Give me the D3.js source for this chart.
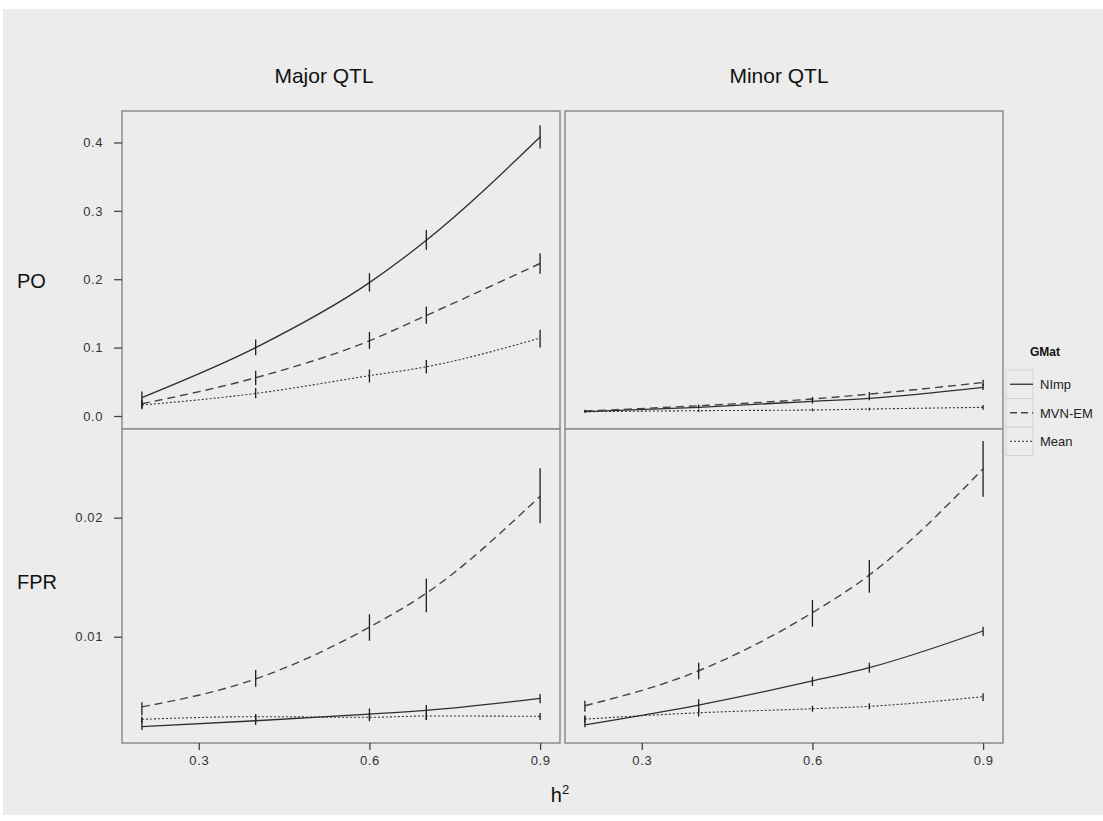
<!DOCTYPE html>
<html>
<head>
<meta charset="utf-8">
<script src="https://cdn.jsdelivr.net/npm/d3@7"></script>
<style>
  html, body { margin: 0; padding: 0; background: #ffffff; }
  svg { display: block; font-family: "Liberation Sans", Arial, sans-serif; }
</style>
</head>
<body>
<svg id="chart" width="1103" height="821"></svg>
<script>
// Heritability levels on the x axis
const h2 = [0.2, 0.4, 0.6, 0.7, 0.9];

const methods = ["NImp", "MVN-EM", "Mean"];
const columns = ["Major QTL", "Minor QTL"];
const rows = ["PO", "FPR"];

const xTicks = [0.3, 0.6, 0.9];
const poTicks = [0.0, 0.1, 0.2, 0.3, 0.4];
const fprTicks = [0.01, 0.02];

// PO, Major QTL
const poMajorNImp   = [0.027, 0.100, 0.195, 0.257, 0.408];
const poMajorNImpLo = [0.010, 0.089, 0.182, 0.243, 0.391];
const poMajorNImpHi = [0.036, 0.112, 0.209, 0.272, 0.425];
const poMajorMvn    = [0.018, 0.056, 0.110, 0.147, 0.223];
const poMajorMvnLo  = [0.013, 0.045, 0.098, 0.135, 0.208];
const poMajorMvnHi  = [0.024, 0.066, 0.123, 0.160, 0.238];
const poMajorMean   = [0.016, 0.033, 0.059, 0.072, 0.114];
const poMajorMeanLo = [0.011, 0.026, 0.049, 0.062, 0.100];
const poMajorMeanHi = [0.021, 0.041, 0.068, 0.082, 0.126];

// PO, Minor QTL
const poMinorNImp   = [0.0063, 0.0127, 0.0215, 0.0259, 0.042];
const poMinorNImpLo = [0.0050, 0.0110, 0.0180, 0.0230, 0.038];
const poMinorNImpHi = [0.0080, 0.0150, 0.0250, 0.0290, 0.047];
const poMinorMvn    = [0.0073, 0.0150, 0.0249, 0.0320, 0.049];
const poMinorMvnLo  = [0.0060, 0.0130, 0.0210, 0.0280, 0.044];
const poMinorMvnHi  = [0.0090, 0.0170, 0.0280, 0.0350, 0.053];
const poMinorMean   = [0.0063, 0.0078, 0.0088, 0.0102, 0.0127];
const poMinorMeanLo = [0.0050, 0.0060, 0.0070, 0.0080, 0.0090];
const poMinorMeanHi = [0.0075, 0.0095, 0.0110, 0.0120, 0.0160];

// FPR, Major QTL
const fprMajorNImp   = [0.00244, 0.00294, 0.00350, 0.00381, 0.00482];
const fprMajorNImpLo = [0.00216, 0.00258, 0.00300, 0.00300, 0.00440];
const fprMajorNImpHi = [0.00314, 0.00342, 0.00398, 0.00426, 0.00518];
const fprMajorMvn    = [0.00410, 0.00645, 0.01080, 0.01365, 0.02180];
const fprMajorMvnLo  = [0.00340, 0.00580, 0.00966, 0.01205, 0.01953];
const fprMajorMvnHi  = [0.00450, 0.00720, 0.01188, 0.01490, 0.02415];
const fprMajorMean   = [0.00306, 0.00328, 0.00323, 0.00334, 0.00331];
const fprMajorMeanLo = [0.00280, 0.00300, 0.00290, 0.00300, 0.00300];
const fprMajorMeanHi = [0.00330, 0.00350, 0.00360, 0.00360, 0.00360];

// FPR, Minor QTL
const fprMinorNImp   = [0.00260, 0.00426, 0.00628, 0.00740, 0.01048];
const fprMinorNImpLo = [0.00240, 0.00370, 0.00586, 0.00697, 0.01006];
const fprMinorNImpHi = [0.00330, 0.00474, 0.00664, 0.00782, 0.01084];
const fprMinorMvn    = [0.00420, 0.00714, 0.01202, 0.01518, 0.02410];
const fprMinorMvnLo  = [0.00370, 0.00642, 0.01084, 0.01370, 0.02176];
const fprMinorMvnHi  = [0.00462, 0.00781, 0.01308, 0.01644, 0.02645];
const fprMinorMean   = [0.00308, 0.00361, 0.00395, 0.00415, 0.00496];
const fprMinorMeanLo = [0.00280, 0.00330, 0.00370, 0.00390, 0.00460];
const fprMinorMeanHi = [0.00340, 0.00390, 0.00420, 0.00440, 0.00524];

// Cell lookup: [row][column] -> per-method {mean, lo, hi}
const cells = [
  [
    [[poMajorNImp, poMajorNImpLo, poMajorNImpHi], [poMajorMvn, poMajorMvnLo, poMajorMvnHi], [poMajorMean, poMajorMeanLo, poMajorMeanHi]],
    [[poMinorNImp, poMinorNImpLo, poMinorNImpHi], [poMinorMvn, poMinorMvnLo, poMinorMvnHi], [poMinorMean, poMinorMeanLo, poMinorMeanHi]]
  ],
  [
    [[fprMajorNImp, fprMajorNImpLo, fprMajorNImpHi], [fprMajorMvn, fprMajorMvnLo, fprMajorMvnHi], [fprMajorMean, fprMajorMeanLo, fprMajorMeanHi]],
    [[fprMinorNImp, fprMinorNImpLo, fprMinorNImpHi], [fprMinorMvn, fprMinorMvnLo, fprMinorMvnHi], [fprMinorMean, fprMinorMeanLo, fprMinorMeanHi]]
  ]
];

const styles = {
  "NImp":   { stroke: "#2e2e2e", dash: null,  width: 1.3 },
  "MVN-EM": { stroke: "#444444", dash: "8,5", width: 1.4 },
  "Mean":   { stroke: "#333333", dash: "2,2", width: 1.1 }
};

const svg = d3.select("#chart");

// Outer grey plot background
svg.append("rect").attr("x", 3).attr("y", 9).attr("width", 1100).attr("height", 806)
  .attr("fill", "#ececec");

// Panel geometry
const colX = [[122, 560], [565, 1003]];
const rowY = [[111, 429], [429, 743]];

const yScales = [
  d3.scaleLinear().domain([-0.019, 0.446]).range([rowY[0][1], rowY[0][0]]),
  d3.scaleLinear().domain([0.00107, 0.02745]).range([rowY[1][1], rowY[1][0]])
];
const xScales = colX.map(r => d3.scaleLinear().domain([0.165, 0.935]).range(r));

const borderColor = "#8c8c8c";

// Panels with series
rows.forEach((rowName, ri) => {
  columns.forEach((colName, ci) => {
    const x = xScales[ci];
    const y = yScales[ri];
    const g = svg.append("g");
    g.append("rect")
      .attr("x", colX[ci][0]).attr("y", rowY[ri][0])
      .attr("width", colX[ci][1] - colX[ci][0]).attr("height", rowY[ri][1] - rowY[ri][0])
      .attr("fill", "#ececec").attr("stroke", borderColor).attr("stroke-width", 1.5);

    methods.forEach((m, mi) => {
      const [mean, lo, hi] = cells[ri][ci][mi];
      const st = styles[m];
      const pts = h2.map((h, i) => ({ h, v: mean[i], lo: lo[i], hi: hi[i] }));
      const line = d3.line().x(d => x(d.h)).y(d => y(d.v)).curve(d3.curveMonotoneX);
      g.append("path").datum(pts)
        .attr("d", line)
        .attr("fill", "none")
        .attr("stroke", st.stroke)
        .attr("stroke-width", st.width)
        .attr("stroke-dasharray", st.dash);
      g.selectAll(null).data(pts).enter().append("line")
        .attr("x1", d => x(d.h)).attr("x2", d => x(d.h))
        .attr("y1", d => y(d.lo)).attr("y2", d => y(d.hi))
        .attr("stroke", "#1e1e1e").attr("stroke-width", 1.3);
    });
  });
});

// Y axes on the left column
const yFormats = [d3.format(".1f"), d3.format(".2f")];
const yTickSets = [poTicks, fprTicks];
rows.forEach((rowName, ri) => {
  const ax = svg.append("g")
    .attr("transform", `translate(${colX[0][0]},0)`)
    .call(d3.axisLeft(yScales[ri]).tickValues(yTickSets[ri]).tickFormat(yFormats[ri])
      .tickSize(8).tickPadding(11));
  ax.select(".domain").remove();
  ax.selectAll(".tick line").attr("stroke", "#444").attr("stroke-width", 1.3);
  ax.selectAll(".tick text").attr("fill", "#333").style("font-size", "13px")
    .style("letter-spacing", "0.6px");
});

// X axes under the bottom row
columns.forEach((colName, ci) => {
  const ax = svg.append("g")
    .attr("transform", `translate(0,${rowY[1][1]})`)
    .call(d3.axisBottom(xScales[ci]).tickValues(xTicks).tickFormat(d3.format(".1f"))
      .tickSize(7).tickPadding(6));
  ax.select(".domain").remove();
  ax.selectAll(".tick line").attr("stroke", "#444").attr("stroke-width", 1.3);
  ax.selectAll(".tick text").attr("fill", "#333").style("font-size", "13px")
    .style("letter-spacing", "0.6px");
});

// Column titles
const titleX = [324, 779];
columns.forEach((c, ci) => {
  svg.append("text").attr("x", titleX[ci]).attr("y", 83)
    .attr("text-anchor", "middle").style("font-size", "21px").attr("fill", "#111")
    .text(c);
});

// Row titles
const rowLabelY = [288, 589];
rows.forEach((r, ri) => {
  svg.append("text").attr("x", 17).attr("y", rowLabelY[ri])
    .style("font-size", "20px").attr("fill", "#111").text(r);
});

// X axis title h²
const xt = svg.append("text").attr("x", 560).attr("y", 802)
  .attr("text-anchor", "middle").style("font-size", "20px").attr("fill", "#111");
xt.append("tspan").text("h");
xt.append("tspan").attr("dy", -8).style("font-size", "13px").text("2");

// Legend
const legend = svg.append("g");
legend.append("text").attr("x", 1030).attr("y", 356)
  .style("font-size", "12px").style("font-weight", "bold").attr("fill", "#111").text("GMat");
const legTop = 370, legRow = 28.5;
methods.forEach((m, mi) => {
  const st = styles[m];
  const y0 = legTop + mi * legRow;
  legend.append("rect").attr("x", 1006).attr("y", y0).attr("width", 27).attr("height", legRow)
    .attr("fill", "#ececec").attr("stroke", "#d2d2d2").attr("stroke-width", 1);
  legend.append("line").attr("x1", 1010).attr("x2", 1033)
    .attr("y1", y0 + legRow / 2).attr("y2", y0 + legRow / 2)
    .attr("stroke", st.stroke).attr("stroke-width", st.width)
    .attr("stroke-dasharray", m === "MVN-EM" ? "7,4" : st.dash);
  legend.append("text").attr("x", 1040).attr("y", y0 + legRow / 2 + 5)
    .style("font-size", "13px").attr("fill", "#222").text(m);
});
</script>
</body>
</html>
